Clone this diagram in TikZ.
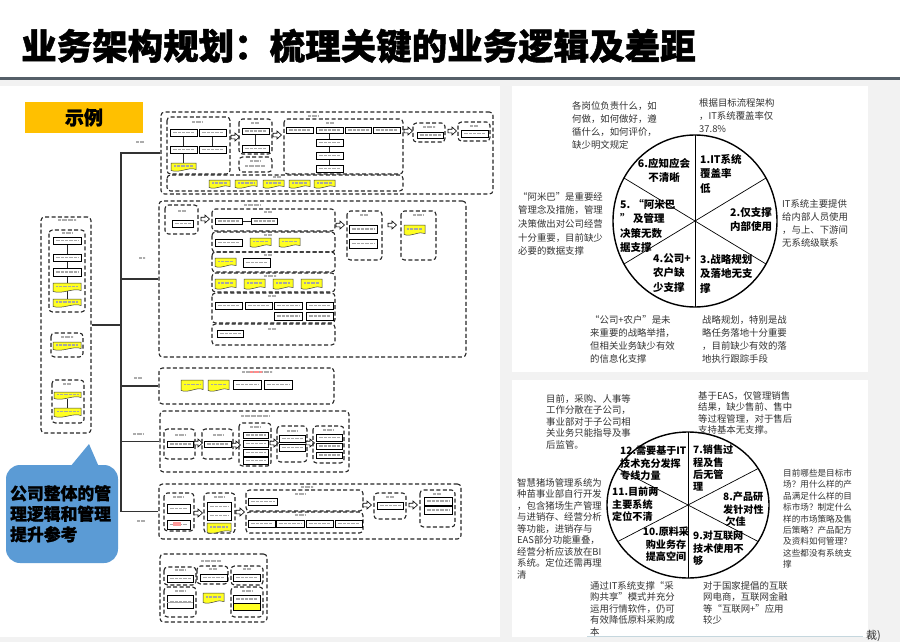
\documentclass[tikz,border=0pt]{standalone}
\usepackage{fontspec}
\newfontfamily\cjk{Noto Sans CJK SC}
\newfontfamily\cjkheavy[BoldFeatures={FakeBold=1.3}]{Noto Sans CJK SC}
\definecolor{pagebg}{HTML}{F2F2F2}
\definecolor{rulec}{HTML}{555F68}
\definecolor{tagc}{HTML}{FFC000}
\definecolor{hl}{HTML}{FFFF22}
\definecolor{bubc}{HTML}{5B9BD5}
\definecolor{notec}{HTML}{333333}

% drawing helpers for the process map (corner coordinates x1,y1,x2,y2)
\newcommand\DBx[4]{\draw[dbox] (#1,#2) rectangle (#3,#4);}
\newcommand\WBx[4]{\draw[wbox] (#1,#2) rectangle (#3,#4);
  \draw[txtbar] ({#1+2.5},{(#2+#4)/2}) -- ({#3-2.5},{(#2+#4)/2});}
\newcommand\YBx[4]{\draw[ybox] (#1,#2) -- (#3,#2) -- (#3,{#4-1.5})
  .. controls ({#1+0.72*(#3-#1)},{#4-4.5}) and ({#1+0.35*(#3-#1)},{#4+2.5}) .. (#1,{#4-0.5}) -- cycle;
  \draw[txtbar] ({#1+3},{(#2+#4)/2-0.8}) -- ({#3-3},{(#2+#4)/2-0.8});}
\newcommand\LBl[3]{\draw[lbl] ({#1-#3/2},#2) -- ({#1+#3/2},#2);}
\newcommand\OAr[2]{\draw[oarr] ({#1-4},{#2-1.8}) -- ({#1},{#2-1.8}) -- ({#1},{#2-4})
  -- ({#1+4.5},{#2}) -- ({#1},{#2+4}) -- ({#1},{#2+1.8}) -- ({#1-4},{#2+1.8}) -- cycle;}
\newcommand\CNode[5]{\node[dbox, inner sep=0pt, minimum width={#4-#2}, minimum height={#5-#3}]
  (#1) at ({(#2+#4)/2},{(#3+#5)/2}) {};}

\begin{document}
\begin{tikzpicture}[x=1pt,y=-1pt,
  dbox/.style={draw=black!85, line width=1.1pt, dash pattern=on 4pt off 2.4pt, rounded corners=3.5pt},
  wbox/.style={draw=black, line width=1pt, fill=white},
  ybox/.style={draw=black!75, line width=0.5pt, fill=hl},
  txtbar/.style={draw=gray!70, line width=1.5pt, dash pattern=on 0.8pt off 0.5pt},
  lbl/.style={draw=gray!65, line width=2pt, dash pattern=on 0.7pt off 0.5pt},
  conn/.style={draw=black!85, line width=0.8pt},
  oarr/.style={draw=black, line width=0.6pt, fill=white},
  tree/.style={draw=black!80, line width=1.1pt},
  seg/.style={font={\cjk\bfseries\fontsize{10.5}{14.5}\selectfont}, align=left, anchor=north west, inner sep=0pt},
  segb/.style={font={\cjk\bfseries\fontsize{10.1}{12.3}\selectfont}, align=left, anchor=north west, inner sep=0pt},
  note/.style={font={\cjk\fontsize{9.4}{13.2}\selectfont}, text=notec, align=left, anchor=north west, inner sep=0pt},
  noteb/.style={font={\cjk\fontsize{9.4}{11.5}\selectfont}, text=notec, align=left, anchor=north west, inner sep=0pt},
]
\useasboundingbox (0,0) rectangle (900,642);

% ---------- page background, title ----------
\fill[pagebg] (0,0) rectangle (900,642);
\fill[white] (0,0) rectangle (900,77);
\fill[white] (0,86) rectangle (500,637);
\fill[white] (512,86) rectangle (868,372);
\fill[white] (512,380) rectangle (868,637);
\draw[rulec, line width=2.6pt] (0,78.5) -- (900,78.5);
\node[font={\cjkheavy\bfseries\fontsize{35.5}{40}\selectfont}, anchor=west, inner sep=0pt] (title)
  at (21,46) {业务架构规划：梳理关键的业务逻辑及差距};

% ---------- example tag ----------
\node[fill=tagc, minimum width=118pt, minimum height=31pt, inner sep=0pt,
  font={\cjkheavy\bfseries\fontsize{19}{22}\selectfont}] (tag) at (84,117.5) {示例};

% ---------- containers of the process map ----------
\CNode{lc}{41}{217}{91}{433}
\CNode{b1}{161}{112}{493}{194}
\CNode{b2}{159}{201}{466}{357}
\CNode{b3}{159}{368}{334}{404}
\CNode{b4}{160}{411}{349}{472}
\CNode{b5}{159}{484}{461}{539}
\CNode{b6}{160}{554}{267}{622}

% tree connectors
\coordinate (tk) at (121,0);
\draw[tree] (b1.west) -| (tk |- b5.west) -- (b5.west);
\draw[tree] (tk |- b2.west) -- (b2.west);
\draw[tree] (tk |- b3.west) -- (b3.west);
\draw[tree] (tk |- b4.west) -- (b4.west);
\draw[tree] (lc.east) -- (tk |- lc.east);
\LBl{140}{142}{8} \LBl{142}{258}{6} \LBl{138}{378}{8} \LBl{138}{434}{10} \LBl{141}{521}{8}

% left column
\LBl{67}{220}{18}
\DBx{49}{230}{85}{312} \LBl{67}{233}{10}
\draw[conn] (67,244) -- (67,299);
\WBx{53}{237}{81}{244} \WBx{53}{254}{81}{261} \WBx{53}{268}{81}{276}
\YBx{53}{283}{81}{292} \YBx{53}{299}{81}{307}
\DBx{51}{333}{83}{357} \LBl{67}{337}{12} \YBx{53}{342}{81}{350}
\DBx{52}{380}{84}{423} \LBl{67}{384}{8}
\draw[conn] (67,399) -- (67,408);
\YBx{54}{392}{81}{399} \YBx{54}{408}{81}{417}

% block 1
\DBx{167}{117}{230}{174} \LBl{197}{122}{10}
\draw[conn] (183.5,136) -- (183.5,163); \draw[conn] (212.5,136) -- (212.5,146);
\WBx{170}{129}{197}{136} \WBx{199}{129}{226}{136} \WBx{170}{146}{197}{153} \WBx{199}{146}{226}{153}
\YBx{171}{163}{196}{171}
\OAr{235}{137}
\DBx{239}{119}{272}{154} \LBl{255}{123}{8}
\draw[conn] (255.5,134) -- (255.5,145);
\WBx{242}{128}{269}{134} \WBx{242}{145}{269}{152}
\DBx{239}{157}{272}{172} \LBl{255}{161}{10} \LBl{255}{166}{20}
\OAr{277}{135}
\DBx{284}{119}{403}{174} \LBl{313}{116}{10} \LBl{330}{123}{8}
\draw[conn] (329.5,133) -- (329.5,165);
\WBx{286}{127}{313}{133} \WBx{316}{127}{343}{133} \WBx{345}{127}{371}{133} \WBx{373}{127}{400}{133}
\WBx{316}{139}{343}{146} \WBx{316}{152}{343}{159} \WBx{316}{165}{343}{172}
\OAr{408}{131}
\DBx{413}{123}{445}{142} \LBl{429}{127}{12} \WBx{417}{132}{443}{138}
\OAr{452}{131}
\DBx{458}{122}{490}{141} \LBl{474}{126}{8} \WBx{461}{130}{488}{137}
\DBx{167}{175}{403}{191} \LBl{277}{177}{8}
\YBx{209}{180}{230}{188} \YBx{235}{180}{257}{188} \YBx{263}{180}{284}{188}
\YBx{289}{180}{310}{188} \YBx{314}{180}{335}{188}

% block 2
\DBx{165}{205}{198}{234} \LBl{182}{211}{8} \WBx{172}{220}{193}{227}
\OAr{205}{219}
\DBx{212}{209}{335}{231} \LBl{252}{205}{16} \LBl{268}{212}{8}
\draw[conn] (242,221) -- (251,221);
\WBx{215}{218}{242}{224} \WBx{251}{218}{277}{224}
\DBx{212}{232}{335}{252} \LBl{268}{235}{8}
\WBx{215}{239}{242}{246} \YBx{250}{238}{271}{247} \YBx{279}{238}{300}{247}
\DBx{212}{252}{335}{272} \LBl{268}{255}{8}
\YBx{215}{258}{236}{267} \WBx{243}{258}{270}{267}
\DBx{212}{273}{335}{292} \LBl{270}{276}{12}
\YBx{215}{279}{236}{289} \YBx{244}{279}{265}{289} \YBx{273}{279}{293}{289} \YBx{301}{279}{322}{289}
\DBx{212}{293}{335}{323} \LBl{272}{296}{8}
\WBx{215}{302}{242}{309} \WBx{245}{302}{272}{309} \WBx{274}{302}{302}{309} \WBx{306}{302}{333}{309}
\WBx{274}{312}{302}{320} \WBx{306}{312}{333}{320}
\DBx{212}{324}{335}{345} \LBl{272}{329}{8} \WBx{217}{330}{243}{337}
\OAr{340}{225}
\DBx{347}{211}{382}{260} \LBl{364}{215}{8}
\WBx{349}{225}{377}{233} \WBx{349}{239}{377}{248}
\OAr{392}{225}
\DBx{401}{211}{436}{260} \LBl{418}{215}{10} \YBx{404}{225}{425}{235}

% block 3
\LBl{257}{372}{30} \draw[lbl, draw=red!45] (250,372) -- (262,372);
\YBx{181}{380}{203}{391} \YBx{208}{380}{229}{391}
\WBx{233}{380}{261}{389} \WBx{264}{380}{292}{389}

% block 4
\LBl{255}{416}{28}
\DBx{164}{429}{195}{459} \LBl{180}{435}{10} \WBx{167}{441}{193}{447}
\OAr{198}{443}
\DBx{202}{429}{233}{459} \LBl{218}{435}{10} \WBx{204}{441}{231}{447}
\OAr{236}{445}
\DBx{239}{423}{271}{466} \LBl{255}{427}{10}
\WBx{243}{432}{268}{438} \WBx{243}{440}{268}{447} \WBx{243}{449}{268}{456} \WBx{243}{457}{268}{464}
\OAr{274}{443}
\DBx{277}{426}{307}{462} \LBl{292}{431}{10}
\WBx{279}{435}{305}{442} \WBx{279}{444}{305}{451}
\OAr{310}{443}
\DBx{313}{426}{344}{463} \LBl{328}{430}{10}
\WBx{316}{434}{342}{441} \WBx{316}{443}{342}{449} \WBx{316}{452}{342}{458}

% block 5
\LBl{307}{487}{12} \LBl{300}{494}{10}
\DBx{164}{493}{194}{531} \LBl{178}{497}{10}
\WBx{167}{504}{190}{513} \WBx{167}{520}{190}{529}
\fill[red!40] (173,522) rectangle (181,526);
\OAr{198}{513}
\DBx{204}{493}{235}{533} \LBl{219}{497}{10}
\WBx{207}{502}{231}{511} \WBx{207}{511}{231}{520} \YBx{207}{523}{231}{533}
\OAr{240}{512}
\DBx{246}{490}{363}{511} \WBx{248}{498}{277}{505}
\DBx{246}{512}{363}{533} \LBl{300}{515}{10}
\WBx{248}{520}{275}{527} \WBx{276}{520}{304}{527} \WBx{306}{520}{333}{527} \WBx{335}{520}{362}{527}
\OAr{367}{505}
\DBx{374}{493}{406}{519} \LBl{390}{497}{8} \WBx{377}{502}{403}{509}
\OAr{413}{505}
\DBx{420}{490}{455}{527} \LBl{437}{494}{8}
\WBx{424}{497}{452}{505} \WBx{424}{506}{452}{514}

% block 6
\LBl{211}{561}{20}
\DBx{164}{567}{196}{585} \LBl{180}{570}{10} \WBx{167}{575}{193}{582}
\DBx{197}{566}{228}{584} \LBl{213}{569}{8} \WBx{200}{574}{227}{581}
\DBx{231}{566}{263}{585} \LBl{247}{569}{8} \WBx{233}{574}{260}{581}
\DBx{164}{587}{196}{617} \LBl{180}{591}{10}
\WBx{167}{595}{193}{608} \draw[gray!70, line width=0.6pt] (167,602) -- (193,602);
\YBx{203}{593}{224}{603}
\DBx{231}{587}{263}{617} \LBl{247}{591}{10}
\WBx{233}{595}{260}{603} \draw[wbox, fill=hl] (233,603) rectangle (260,610);

% ---------- callout ----------
\fill[bubc, rounded corners=14pt] (6,465) rectangle (118,563);
\fill[bubc] (70,467) -- (89,444) -- (99,467) -- cycle;
\node[font={\cjkheavy\bfseries\fontsize{16.8}{20.5}\selectfont}, align=left, inner sep=0pt, anchor=north west]
  (callout) at (10,485) {公司整体的管\\理逻辑和管理\\提升参考};

% ---------- upper wheel ----------
\coordinate (c1) at (695,221);
\draw[line width=0.7pt] (695,135) -- (695,307);
\draw[line width=0.7pt] ({695+82*cos(150)},{221-86*sin(150)}) -- ({695+82*cos(330)},{221-86*sin(330)});
\draw[line width=0.7pt] ({695+82*cos(30)},{221-86*sin(30)}) -- ({695+82*cos(210)},{221-86*sin(210)});
\draw[line width=1.4pt] (c1) ellipse [x radius=82, y radius=86];

\node[seg] (u1) at (700,154) {1.IT系统\\覆盖率\\低};
\node[seg, align=center, anchor=north] (u6) at (664,158) {6.应知应会\\不清晰};
\node[seg] (u5) at (620,199) {5. “阿米巴\\” 及管理\\决策无数\\据支撑};
\node[seg] (u2) at (730,207) {2.仅支撑\\内部使用};
\node[seg] (u4) at (653,253) {4.公司+\\农户缺\\少支撑};
\node[seg] (u3) at (700,254) {3.战略规划\\及落地无支\\撑};

\node[note] (n1) at (572,101) {各岗位负责什么，如\\何做，如何做好，遵\\循什么，如何评价，\\缺少明文规定};
\node[note] (n2) at (699,98) {根据目标流程架构\\，IT系统覆盖率仅\\37.8\%};
\node[note, font={\cjk\fontsize{9.4}{13.7}\selectfont}] (n3) at (518,192) {“阿米巴”是重要经\\管理念及措施，管理\\决策做出对公司经营\\十分重要，目前缺少\\必要的数据支撑};
\node[note] (n4) at (782,199) {IT系统主要提供\\给内部人员使用\\，与上、下游间\\无系统级联系};
\node[note] (n5) at (590,315) {“公司+农户”是未\\来重要的战略举措，\\但相关业务缺少有效\\的信息化支撑};
\node[note] (n6) at (702,315) {战略规划，特别是战\\略任务落地十分重要\\，目前缺少有效的落\\地执行跟踪手段};

% ---------- lower wheel ----------
\coordinate (c2) at (688,505);
\draw[line width=0.7pt] (688,432) -- (688,578);
\draw[line width=0.7pt] ({688+81*cos(150)},{505-73*sin(150)}) -- ({688+81*cos(330)},{505-73*sin(330)});
\draw[line width=0.7pt] ({688+81*cos(30)},{505-73*sin(30)}) -- ({688+81*cos(210)},{505-73*sin(210)});
\draw[line width=1.4pt] (c2) ellipse [x radius=81, y radius=73];

\node[segb] (l12) at (620,446) {12.需要基于IT\\技术充分发挥\\专线力量};
\node[segb] (l7) at (693,445) {7.销售过\\程及售\\后无管\\理};
\node[segb] (l8) at (723,492) {8.产品研\\发针对性\\~欠佳};
\node[segb] (l11) at (612,487) {11.目前两\\主要系统\\定位不清};
\node[segb, align=center, anchor=north] (l10) at (666,527) {10.原料采\\购业务存\\提高空间};
\node[segb] (l9) at (693,531) {9.对互联网\\技术使用不\\够};

\node[noteb] (m1) at (546,394) {目前，采购、人事等\\工作分散在子公司，\\事业部对于子公司相\\关业务只能指导及事\\后监管。};
\node[noteb] (m2) at (698,391) {基于EAS，仅管理销售\\结果，缺少售前、售中\\等过程管理，对于售后\\支持基本无支撑。};
\node[noteb] (m3) at (517,478) {智慧猪场管理系统为\\种苗事业部自行开发\\，包含猪场生产管理\\与进销存、经营分析\\等功能，进销存与\\EAS部分功能重叠，\\经营分析应该放在BI\\系统。定位还需再理\\清};
\node[noteb, font={\cjk\fontsize{8.6}{11.4}\selectfont}] (m4) at (783,469) {目前哪些是目标市\\场？用什么样的产\\品满足什么样的目\\标市场？制定什么\\样的市场策略及售\\后策略？产品配方\\及资料如何管理？\\这些都没有系统支\\撑};
\node[noteb] (m5) at (590,581) {通过IT系统支撑“采\\购共享”模式并充分\\运用行情软件，仍可\\有效降低原料采购成\\本};
\node[noteb] (m6) at (703,581) {对于国家提倡的互联\\网电商，互联网金融\\等“互联网+”应用\\较少};

% ---------- footer rule ----------
\draw[cyan!30!gray!40, line width=0.8pt] (587,636) -- (863,636);
\node[font={\cjk\fontsize{11}{12}\selectfont}, text=black!80, anchor=west, inner sep=0pt] (src) at (866,636) {裁)};
\end{tikzpicture}
\end{document}
